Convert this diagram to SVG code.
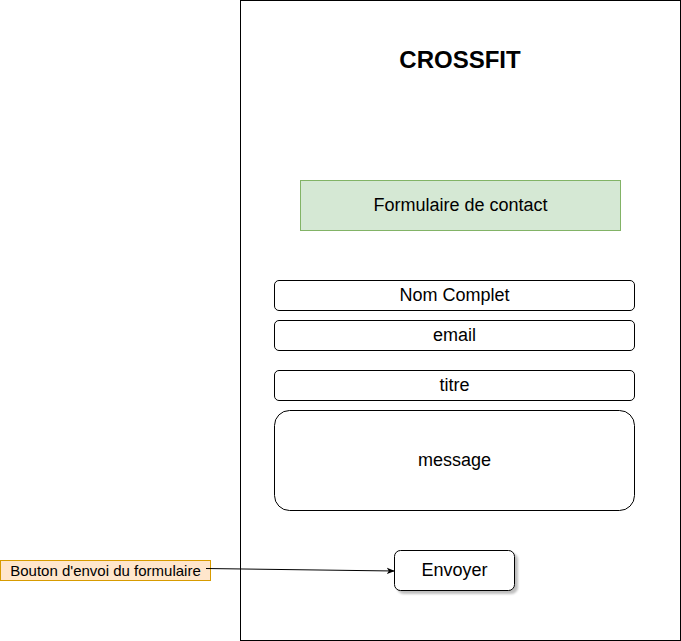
<svg xmlns="http://www.w3.org/2000/svg" width="681" height="641" viewBox="0 0 681 641">
<style>
text{font-family:"Liberation Sans",Arial,sans-serif;fill:#000;text-anchor:middle;dominant-baseline:central}
.f{fill:#fff;stroke:#000;stroke-width:1}
.t{font-size:18px}
</style>
<defs>
<marker id="arr" viewBox="0 0 10 10" refX="9" refY="5" markerWidth="8" markerHeight="8" markerUnits="userSpaceOnUse" orient="auto">
<path d="M0,1 L10,5 L0,9 L2.5,5 Z" fill="#000"/>
</marker>
<filter id="sh" x="-10%" y="-10%" width="130%" height="130%">
<feDropShadow dx="3" dy="3" stdDeviation="1.2" flood-color="#000" flood-opacity="0.25"/>
</filter>
</defs>
<g id="frame"><rect x="240.5" y="0.5" width="440" height="640" fill="#fff" stroke="#000"/></g>
<g id="title"><text x="460" y="59" style="font-size:24px;font-weight:bold">CROSSFIT</text></g>
<g id="formTitle"><rect x="300.5" y="180.5" width="320" height="50" fill="#d5e8d4" stroke="#82b366"/><text class="t" x="460.5" y="204.5">Formulaire de contact</text></g>
<g id="nom"><rect class="f" x="274.5" y="280.5" width="360" height="30" rx="4.5"/><text class="t" x="454.5" y="294.5">Nom Complet</text></g>
<g id="email"><rect class="f" x="274.5" y="320.5" width="360" height="30" rx="4.5"/><text class="t" x="454.5" y="334.5">email</text></g>
<g id="titre"><rect class="f" x="274.5" y="370.5" width="360" height="30" rx="4.5"/><text class="t" x="454.5" y="384.5">titre</text></g>
<g id="message"><rect class="f" x="274.5" y="410.5" width="360" height="100" rx="15"/><text class="t" x="454.5" y="459.5">message</text></g>
<g id="envoyer"><rect class="f" x="394.5" y="550.5" width="120" height="40" rx="6" filter="url(#sh)"/><text class="t" x="454.5" y="569.5">Envoyer</text></g>
<g id="note"><rect x="0.5" y="560.5" width="210" height="20" fill="#ffe6cc" stroke="#d79b00"/><text x="105.5" y="570" style="font-size:15px">Bouton d'envoi du formulaire</text></g>
<g id="connectors"><path d="M206,568.5 L394,571" fill="none" stroke="#000" marker-end="url(#arr)"/></g>
</svg>
